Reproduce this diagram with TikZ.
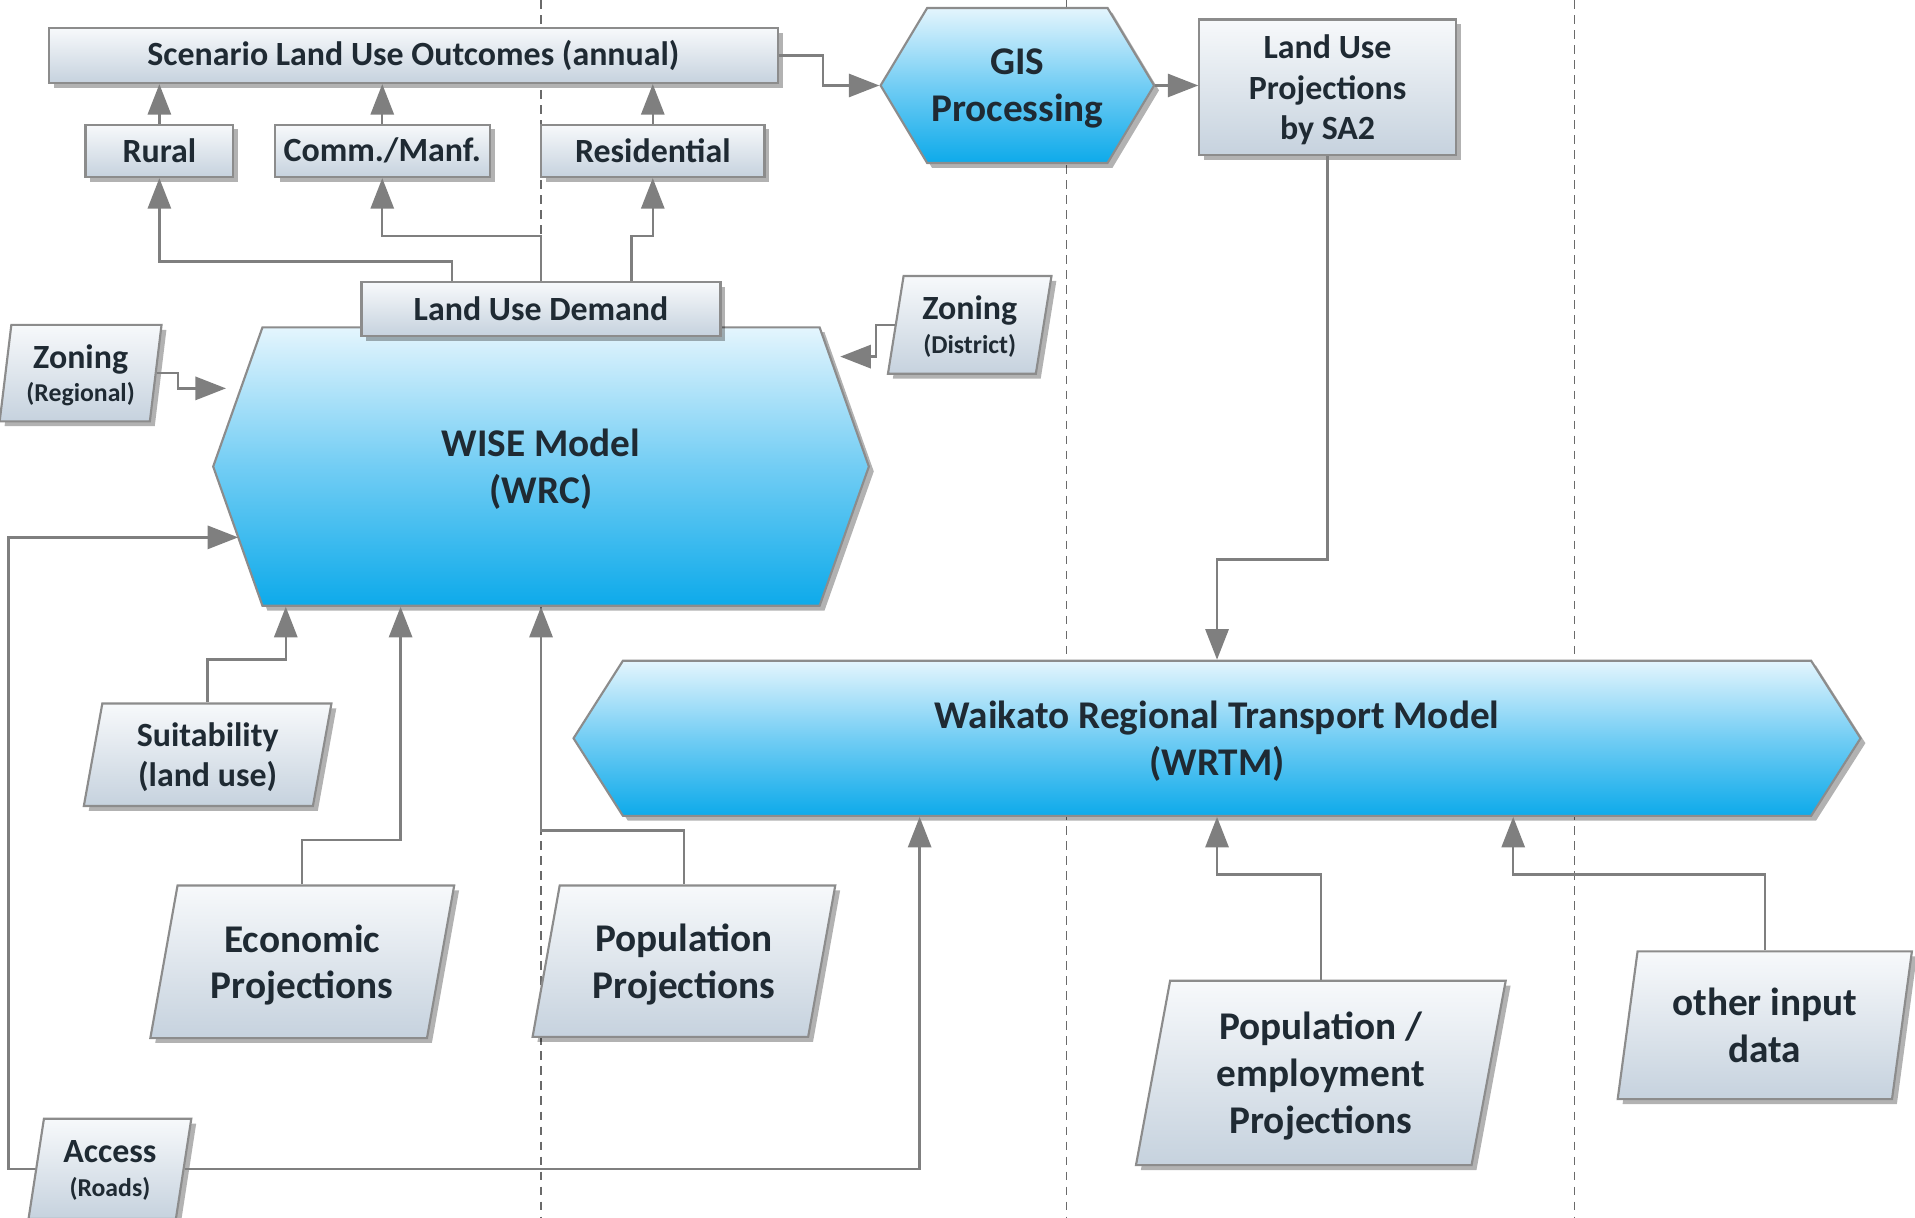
\documentclass[tikz,border=0pt]{standalone}
\usepackage{fontspec}
\setmainfont{Carlito}
\usetikzlibrary{arrows.meta,shapes.geometric,shapes.symbols,shadows}

\definecolor{wiregray}{HTML}{7F7F7F}
\definecolor{rim}{HTML}{8C8C8C}
\definecolor{paletop}{HTML}{F7F9FB}
\definecolor{palebot}{HTML}{C6D2DE}
\definecolor{skytop}{HTML}{E4F5FD}
\definecolor{skymid}{HTML}{72CDF4}
\definecolor{skybot}{HTML}{0DAAEA}
\definecolor{ink}{HTML}{1F2A33}
\definecolor{lanegray}{HTML}{6A6A6A}

\newcommand{\midtxt}{\fontsize{15.8}{18.8}\selectfont}
\newcommand{\bigtxt}{\fontsize{18.3}{21.8}\selectfont}
\newcommand{\smalltxt}{\fontsize{12}{14}\selectfont}

\begin{document}
\begin{tikzpicture}[x=0.02cm,y=-0.02cm,
    font=\bfseries, text=ink,
    shadowed/.style={drop shadow={shadow xshift=0.08cm,shadow yshift=-0.08cm,fill=black,opacity=0.3}},
    box/.style={rectangle,draw=rim,line width=1pt,top color=paletop,bottom color=palebot,shadowed,align=center,inner sep=0pt,font=\bfseries\midtxt},
    data/.style={trapezium,trapezium left angle=79,trapezium right angle=101,trapezium stretches=true,draw=rim,line width=1pt,top color=paletop,bottom color=palebot,shadowed,align=center,inner sep=0pt,text depth=0pt,font=\bfseries\midtxt},
    model/.style={signal,signal to=east and west,draw=rim,line width=1pt,top color=skytop,bottom color=skybot,middle color=skymid,shadowed,align=center,inner sep=0pt,text depth=0pt,font=\bfseries\bigtxt},
    link/.style={draw=wiregray,line width=1.1pt},
    arr/.style={link,-{Triangle[length=0.5cm,width=0.38cm]}},
    lanes/.style={draw=lanegray,line width=0.6pt,dash pattern=on 4pt off 3pt}]

\useasboundingbox (0,0) rectangle (1568,997);

\draw[lanes] (443,0) -- (443,997);
\draw[lanes] (873,0) -- (873,997);
\draw[lanes] (1289,0) -- (1289,997);

\node[box,minimum width=11.94cm,minimum height=0.9cm] (scen) at (338.5,45.5) {Scenario Land Use Outcomes (annual)};
\node[box,minimum width=2.42cm,minimum height=0.86cm] (rural) at (130.5,123.5) {Rural};
\node[box,minimum width=3.52cm,minimum height=0.86cm] (comm) at (313,123.5) {Comm./Manf.};
\node[box,minimum width=3.66cm,minimum height=0.86cm] (resi) at (534.5,123.5) {Residential};
\node[model,minimum width=4.48cm,minimum height=2.54cm,signal pointer angle=118] (gis) at (833,70) {GIS\\Processing};
\node[box,minimum width=4.2cm,minimum height=2.22cm,text depth=0pt] (lup) at (1087,71.5) {Land Use\\Projections\\by SA2};

\node[model,minimum width=10.74cm,minimum height=4.56cm,signal pointer angle=141] (wise) at (443,382) {WISE Model\\(WRC)};
\node[box,minimum width=5.88cm,minimum height=0.88cm] (lud) at (443,253) {Land Use Demand};
\node[data,trapezium left angle=81,trapezium right angle=99,minimum width=2.66cm,minimum height=1.58cm] (zonr) at (66,305.5) {Zoning\\[-3pt]{\smalltxt(Regional)}};
\node[data,minimum width=2.68cm,minimum height=1.6cm] (zond) at (794,266) {Zoning\\[-3pt]{\smalltxt(District)}};
\node[data,minimum width=4.08cm,minimum height=1.68cm] (suit) at (170,618) {Suitability\\(land use)};
\node[data,trapezium left angle=75,trapezium right angle=105,minimum width=4.98cm,minimum height=2.5cm,font=\bfseries\bigtxt] (econ) at (247.5,787.5) {Economic\\Projections};
\node[data,trapezium left angle=75,trapezium right angle=105,minimum width=4.96cm,minimum height=2.48cm,font=\bfseries\bigtxt] (popp) at (560,787) {Population\\Projections};
\node[data,minimum width=2.68cm,minimum height=1.64cm] (acc) at (90,957) {Access\\[-3pt]{\smalltxt(Roads)}};

\node[model,minimum width=21.08cm,minimum height=2.54cm,signal pointer angle=115] (wrtm) at (996.5,604.5) {Waikato Regional Transport Model\\(WRTM)};
\node[data,minimum width=6.06cm,minimum height=3.02cm,font=\bfseries\bigtxt] (pope) at (1081.5,878.5) {Population /\\employment\\Projections};
\node[data,minimum width=4.84cm,minimum height=2.42cm,font=\bfseries\bigtxt] (oth) at (1445,839.5) {other input\\data};

\coordinate (k1) at (370,214);
\coordinate (k2) at (443,193);
\coordinate (k3) at (517,193);
\coordinate (k4) at (674,45.5);
\coordinate (k5) at (1087,458);
\coordinate (k6) at (146,318);
\coordinate (t1) at (185,318);
\coordinate (k7) at (717,292);
\coordinate (t2) at (688,292);
\coordinate (k9) at (7,440);
\coordinate (t3) at (195,440);
\coordinate (k10) at (753,0);
\coordinate (k11) at (234,540);
\coordinate (k12) at (328,688);
\coordinate (k13) at (443,680);
\coordinate (k14) at (996.5,716);
\coordinate (k15) at (1239,716);

\draw[arr] (rural.north) -- (rural.north |- scen.south);
\draw[arr] (comm.north) -- (comm.north |- scen.south);
\draw[arr] (resi.north) -- (resi.north |- scen.south);
\draw[arr] (lud.north -| k1) -- (k1) -| (rural.south);
\draw[arr] (lud.north) -- (k2) -| (comm.south);
\draw[arr] (lud.north -| k3) -- (k3) -| (resi.south);
\draw[arr] (scen.east) -- (k4) |- (gis.west);
\draw[arr] (gis.east) -- (gis.east -| lup.west);
\draw[arr] (lup.south) -- (k5) -| (wrtm.north);
\draw[arr] (zonr.east) -| (k6) -- (t1);
\draw[arr] (zond.west) -| (k7) -- (t2);
\draw[arr] (acc.west) -| (k9) -- (t3);
\draw[arr] (acc.east) -| (wrtm.south -| k10);
\draw[arr] (suit.north) |- (k11) -- (k11 |- wise.south);
\draw[arr] (econ.north) |- (k12) -- (k12 |- wise.south);
\draw[arr] (popp.north) |- (k13) -- (wise.south);
\draw[arr] (pope.north) |- (k14) -- (wrtm.south);
\draw[arr] (oth.north) |- (k15) -- (k15 |- wrtm.south);
\end{tikzpicture}
\end{document}
